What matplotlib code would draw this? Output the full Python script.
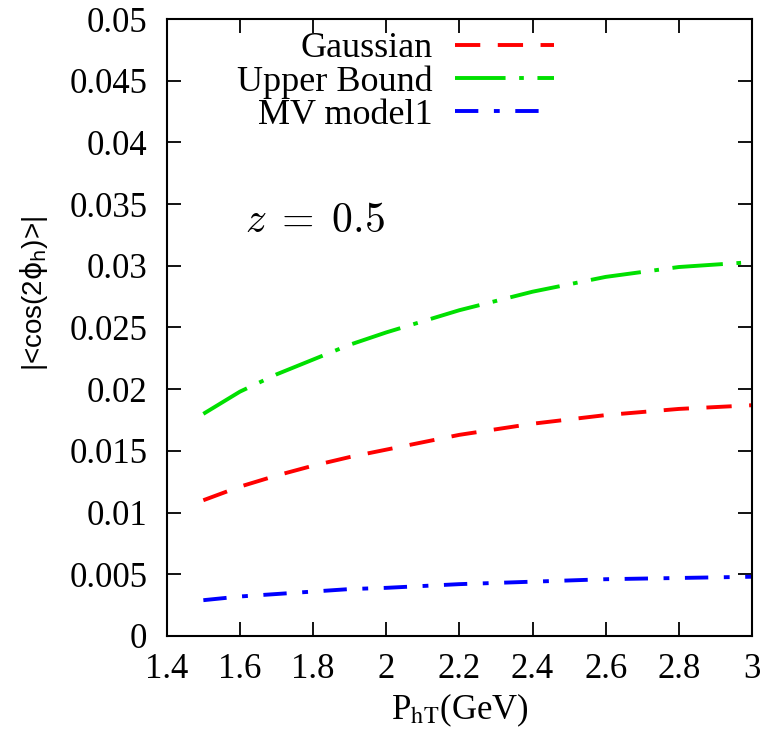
import matplotlib
matplotlib.use("Agg")
import matplotlib.pyplot as plt
from matplotlib.ticker import FuncFormatter

# --- Data ---
pht = [1.5, 1.6, 1.7, 1.8, 1.9, 2.0, 2.2, 2.4, 2.6, 2.8, 3.0]
gaussian = [0.0110, 0.0121, 0.0130, 0.0138, 0.0145, 0.0151, 0.0163, 0.0172, 0.0179, 0.0184, 0.0187]
upper_bound = [0.0180, 0.0198, 0.0212, 0.0224, 0.0236, 0.0246, 0.0264, 0.0279, 0.0291, 0.0299, 0.0303]
mv_model = [0.0029, 0.0032, 0.0034, 0.0036, 0.0038, 0.0039, 0.0042, 0.0044, 0.0046, 0.0047, 0.0048]

xticks = [1.4, 1.6, 1.8, 2.0, 2.2, 2.4, 2.6, 2.8, 3.0]
yticks = [0, 0.005, 0.01, 0.015, 0.02, 0.025, 0.03, 0.035, 0.04, 0.045, 0.05]

# --- Style ---
plt.rcParams['font.family'] = ['Liberation Serif', 'DejaVu Serif']
plt.rcParams['mathtext.fontset'] = 'stix'

fig = plt.figure(figsize=(7.65, 7.31), dpi=100)
ax = fig.add_axes([0.218, 0.130, 0.765, 0.844])

lw = 2.8
ax.plot(pht, gaussian, color='#ff0000', lw=lw, dashes=(6.5, 4.5), label='Gaussian')
ax.plot(pht, upper_bound, color='#00e000', lw=lw, dashes=(13, 3.5, 1.2, 3.5), label='Upper Bound')
ax.plot(pht, mv_model, color='#0000ff', lw=lw, dashes=(6, 4, 1.5, 4), label='MV model1')

ax.text(1.613, 0.0336, r'$z\;=\;0.5$', fontsize=30, va='center', math_fontfamily='cm')

ax.set_xlim(1.4, 3.0)
ax.set_ylim(0, 0.05)
ax.set_xticks(xticks)
ax.set_yticks(yticks)
fmt = FuncFormatter(lambda v, p: '{:g}'.format(round(v, 4)))
ax.xaxis.set_major_formatter(fmt)
ax.yaxis.set_major_formatter(fmt)
ax.tick_params(direction='in', length=10, width=1.3, top=True, right=True,
               labelsize=25, pad=14)
ax.tick_params(axis='x', pad=12)
for s in ax.spines.values():
    s.set_linewidth(1.5)

ax.set_xlabel(r'P$_{\rm hT}$(GeV)', fontsize=25, labelpad=4)
ax.set_ylabel(r'|<cos(2$\mathrm{\phi}_{\rm h}$)>|', fontsize=20, family=['Liberation Sans'],
              math_fontfamily='dejavusans')
ax.yaxis.set_label_coords(-0.2, 0.556)

ax.legend(loc='upper right', bbox_to_anchor=(0.705, 1.02), frameon=False,
          markerfirst=False, fontsize=26, handlelength=2.75, handletextpad=0.6,
          labelspacing=0.0, borderpad=0.2)

fig.savefig('out.png', dpi=100)
